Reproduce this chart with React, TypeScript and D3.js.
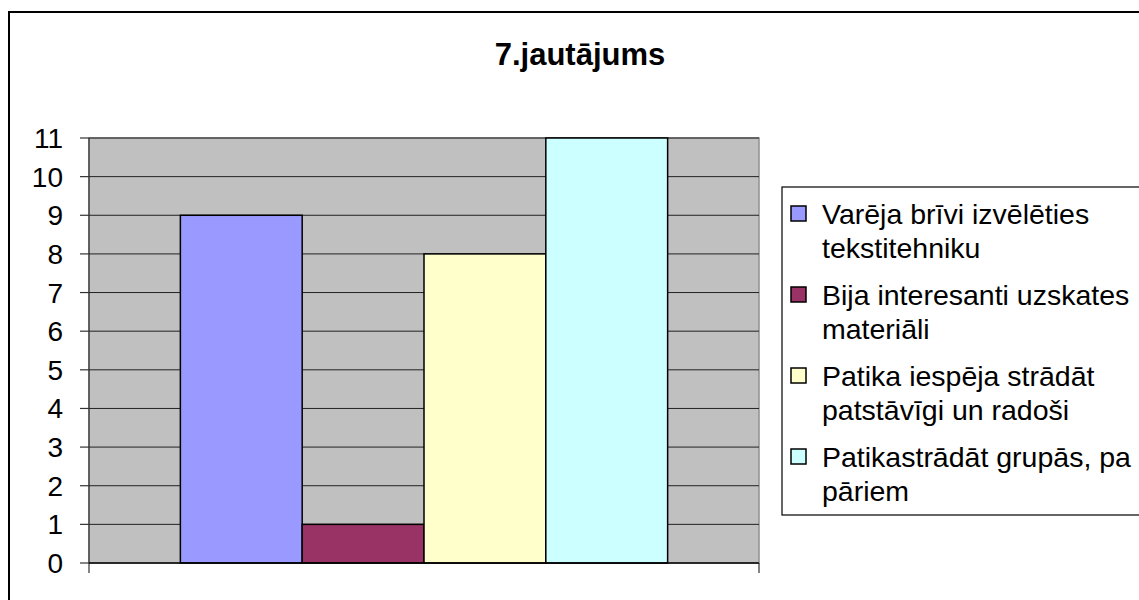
import React, { useEffect, useRef } from "react";
import * as d3 from "d3";

// chart data
const chartTitle = "7.jautājums";
const seriesNames = [
  "Varēja brīvi izvēlēties\ntekstitehniku",
  "Bija interesanti uzskates\nmateriāli",
  "Patika iespēja strādāt\npatstāvīgi un radoši",
  "Patikastrādāt grupās, pa\npāriem",
];
const seriesValues = [9, 1, 8, 11];
const seriesColors = ["#9999FF", "#993366", "#FFFFCC", "#CCFFFF"];
const yTicks = [0, 1, 2, 3, 4, 5, 6, 7, 8, 9, 10, 11];

const W = 1139;
const H = 600;
const FONT = "'Liberation Sans', Arial, sans-serif";

export default function App() {
  const ref = useRef<SVGSVGElement>(null);

  useEffect(() => {
    const svg = d3.select(ref.current);
    svg.selectAll("*").remove();

    const plot = { left: 89, right: 759, top: 138, bottom: 563 };

    // outer chart frame (runs off the page on the right and bottom)
    svg.append("rect")
      .attr("x", 9).attr("y", 12)
      .attr("width", 1160).attr("height", 620)
      .attr("fill", "#fff").attr("stroke", "#000").attr("stroke-width", 2);

    svg.append("text")
      .attr("x", 580).attr("y", 65)
      .attr("text-anchor", "middle")
      .style("font-family", FONT).style("font-size", "31px").style("font-weight", "bold")
      .text(chartTitle);

    const y = d3.scaleLinear().domain([0, 11]).range([plot.bottom, plot.top]);
    const x = d3.scaleBand<number>()
      .domain(d3.range(seriesValues.length))
      .range([plot.left, plot.right])
      .paddingInner(0)
      .paddingOuter(0.75);

    // plot area
    svg.append("rect")
      .attr("x", plot.left).attr("y", plot.top)
      .attr("width", plot.right - plot.left).attr("height", plot.bottom - plot.top)
      .attr("fill", "#C0C0C0").attr("stroke", "#909090").attr("stroke-width", 1.5);

    // gridlines
    svg.append("g").selectAll("line")
      .data(yTicks.filter(t => t > 0))
      .enter().append("line")
      .attr("x1", plot.left).attr("x2", plot.right)
      .attr("y1", d => y(d)).attr("y2", d => y(d))
      .attr("stroke", "#222").attr("stroke-width", 1);

    // bars
    svg.append("g").selectAll("rect")
      .data(seriesValues)
      .enter().append("rect")
      .attr("x", (_, i) => x(i)!)
      .attr("y", d => y(d))
      .attr("width", x.bandwidth())
      .attr("height", d => y(0) - y(d))
      .attr("fill", (_, i) => seriesColors[i])
      .attr("stroke", "#000").attr("stroke-width", 1.5);

    // y axis
    const yAxis = svg.append("g");
    yAxis.append("line")
      .attr("x1", plot.left).attr("x2", plot.left)
      .attr("y1", plot.top).attr("y2", plot.bottom + 10)
      .attr("stroke", "#333").attr("stroke-width", 1.2);
    yAxis.selectAll("line.tick")
      .data(yTicks)
      .enter().append("line")
      .attr("class", "tick")
      .attr("x1", plot.left - 9).attr("x2", plot.left)
      .attr("y1", d => y(d)).attr("y2", d => y(d))
      .attr("stroke", "#333").attr("stroke-width", 1.2);
    yAxis.selectAll("text")
      .data(yTicks)
      .enter().append("text")
      .attr("x", 63).attr("y", d => y(d) + 10)
      .attr("text-anchor", "end")
      .style("font-family", FONT).style("font-size", "28px")
      .text(d => d);

    // x axis
    svg.append("line")
      .attr("x1", plot.left).attr("x2", plot.right)
      .attr("y1", plot.bottom).attr("y2", plot.bottom)
      .attr("stroke", "#000").attr("stroke-width", 1.5);
    svg.append("line")
      .attr("x1", plot.right).attr("x2", plot.right)
      .attr("y1", plot.bottom).attr("y2", plot.bottom + 10)
      .attr("stroke", "#333").attr("stroke-width", 1.2);

    // legend
    const lg = svg.append("g");
    lg.append("rect")
      .attr("x", 782).attr("y", 187)
      .attr("width", 400).attr("height", 328)
      .attr("fill", "#fff").attr("stroke", "#000").attr("stroke-width", 1.2);

    const entry = lg.selectAll("g.entry")
      .data(seriesNames)
      .enter().append("g")
      .attr("class", "entry")
      .attr("transform", (_, i) => `translate(0, ${224 + i * 81})`);
    entry.append("rect")
      .attr("x", 791).attr("y", -18)
      .attr("width", 15).attr("height", 15)
      .attr("fill", (_, i) => seriesColors[i])
      .attr("stroke", "#000").attr("stroke-width", 1.5);
    entry.append("text")
      .style("font-family", FONT).style("font-size", "28.5px")
      .selectAll("tspan")
      .data(d => d.split("\n"))
      .enter().append("tspan")
      .attr("x", 822)
      .attr("y", (_, j) => j * 34)
      .text(d => d);
  }, []);

  return (
    <div style={{ position: "absolute", left: 0, top: 0 }}>
      <svg ref={ref} width={W} height={H} style={{ display: "block", background: "#fff" }} />
    </div>
  );
}
